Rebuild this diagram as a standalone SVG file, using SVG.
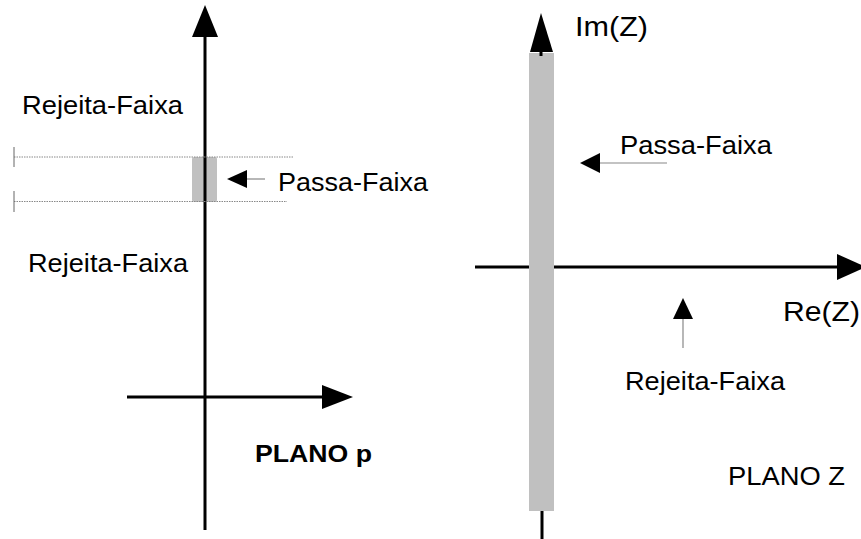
<svg xmlns="http://www.w3.org/2000/svg" width="861" height="539" viewBox="0 0 861 539">
<style>
.axis{stroke:#000;stroke-width:3;fill:none}
.head{fill:#000}
.band{fill:#c0c0c0}
.dot{stroke:#888;stroke-width:1;stroke-dasharray:1.5,1;fill:none}
.tick{stroke:#666;stroke-width:1}
.thin{stroke:#888;stroke-width:1.2;fill:none}
text{font-family:"Liberation Sans",Arial,sans-serif;fill:#000}
.lbl{font-size:25px}
.big{font-size:28px}
</style>
<rect width="861" height="539" fill="#fff"/>
<g id="plano-p">
  <rect class="band" x="192" y="157" width="25" height="45" rx="2"/>
  <line class="axis" x1="205" y1="34" x2="205" y2="530"/>
  <polygon class="head" points="205,5 218,37 192,37"/>
  <line class="axis" x1="127" y1="397" x2="324" y2="397"/>
  <polygon class="head" points="353,397 322,385 322,409"/>
  <line class="dot" x1="14" y1="157" x2="293" y2="157"/>
  <line class="dot" x1="14" y1="201.5" x2="287" y2="201.5"/>
  <line class="tick" x1="14" y1="147" x2="14" y2="167"/>
  <line class="tick" x1="14" y1="191" x2="14" y2="212"/>
  <text class="lbl" x="22" y="114" textLength="161" lengthAdjust="spacingAndGlyphs">Rejeita-Faixa</text>
  <text class="lbl" x="28" y="272" textLength="160" lengthAdjust="spacingAndGlyphs">Rejeita-Faixa</text>
  <text class="lbl" x="278" y="191" textLength="150" lengthAdjust="spacingAndGlyphs">Passa-Faixa</text>
  <text x="255" y="462" font-size="23" font-weight="bold" textLength="117" lengthAdjust="spacingAndGlyphs">PLANO p</text>
</g>
<g id="plano-z">
  <rect class="band" x="529" y="53" width="25" height="458"/>
  <line class="axis" x1="541" y1="48" x2="541" y2="56"/>
  <polygon class="head" points="541,13 553,52 530,52"/>
  <line class="axis" x1="542" y1="511" x2="542" y2="539"/>
  <line class="axis" x1="475" y1="267" x2="529" y2="267"/>
  <line class="axis" x1="554" y1="267" x2="840" y2="267"/>
  <polygon class="head" points="866,267 837,254 837,280"/>
  <text class="big" x="575" y="36" textLength="73" lengthAdjust="spacingAndGlyphs">Im(Z)</text>
  <text class="big" x="783" y="321" textLength="77" lengthAdjust="spacingAndGlyphs">Re(Z)</text>
  <text class="lbl" x="620" y="154" textLength="152" lengthAdjust="spacingAndGlyphs">Passa-Faixa</text>
  <text class="lbl" x="625" y="390" textLength="160" lengthAdjust="spacingAndGlyphs">Rejeita-Faixa</text>
  <text x="728" y="485" font-size="25" textLength="117" lengthAdjust="spacingAndGlyphs">PLANO Z</text>
</g>
<g id="connectors">
  <line class="thin" x1="245" y1="179" x2="265" y2="179"/>
  <polygon class="head" points="227,179 247,170 247,188"/>
  <line class="thin" x1="598" y1="163" x2="667" y2="163"/>
  <polygon class="head" points="580,163 600,153 600,173"/>
  <line class="thin" x1="683" y1="317" x2="683" y2="348"/>
  <polygon class="head" points="683,298 693,319 673,319"/>
</g>
</svg>
